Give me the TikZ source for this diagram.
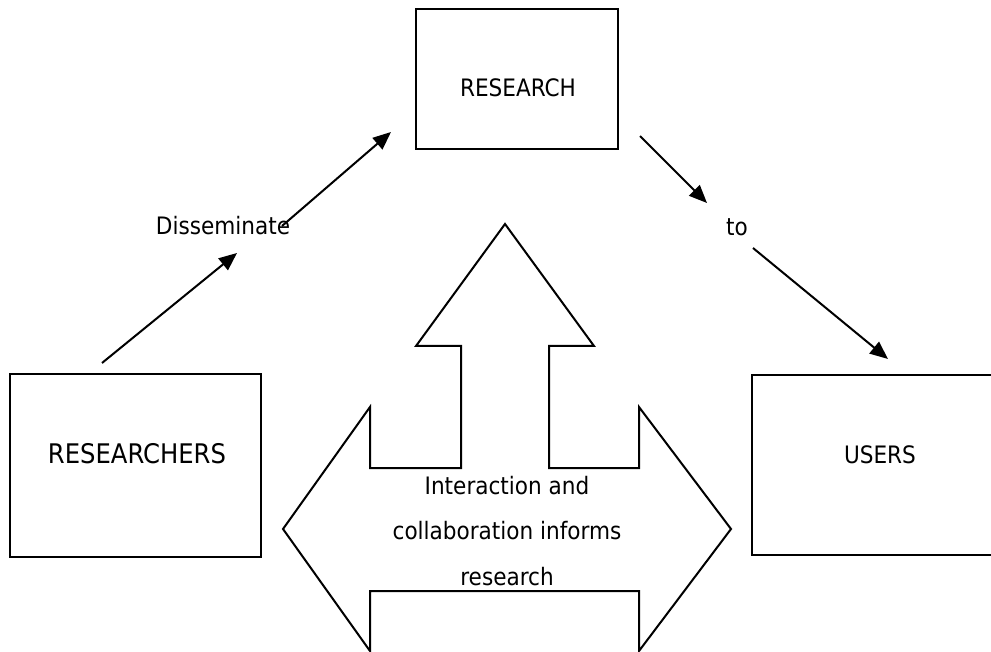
\documentclass[tikz,border=0pt]{standalone}
\usepackage{fontspec}
\setmainfont{DejaVu Sans Condensed}
\usetikzlibrary{arrows.meta}

\tikzset{
  box/.style = {draw, line width = 2.2pt, inner sep = 0pt},
  conn/.style = {line width = 2pt, -{Triangle[length = 18pt, width = 15pt]}},
  lbl/.style = {inner sep = 0pt, font = \fontsize{24}{28}\selectfont},
}

\begin{document}
\begin{tikzpicture}[x = 1pt, y = -1pt]
		\clip (0,0) rectangle (991,652);
		
		% boxes
		\node [box, minimum width = 202pt, minimum height = 140pt] (research) at (517,79) {};
		\node [box, minimum width = 251pt, minimum height = 183pt] (researchers) at (135.5,465.5) {};
		\node [box, minimum width = 251pt, minimum height = 180pt] (users) at (877.5,465) {};
		
		\node [lbl, anchor = base] (researchtxt) at (518,97) {RESEARCH};
		\node [lbl, anchor = base, font = \fontsize{27}{32}\selectfont] (researcherstxt) at (137,463) {RESEARCHERS};
		\node [lbl, anchor = base] (userstxt) at (880,463) {USERS};
		
		% labels on the connectors
		\node [lbl, anchor = base] (dissem) at (223,235) {Disseminate};
		\node [lbl, anchor = base] (to) at (737,236) {to};
		
		\coordinate (dissemin) at (102,363);
		\coordinate (dissembelow) at (237,253);
		\coordinate (dissemabove) at (282,226);
		\coordinate (researchin) at (391,132);
		\coordinate (researchout) at (640,136);
		\coordinate (toabove) at (707,203);
		\coordinate (tobelow) at (753,248);
		\coordinate (usersin) at (888,359);
		
		\draw [conn] (dissemin) -- (dissembelow);
		\draw [conn] (dissemabove) -- (researchin);
		\draw [conn] (researchout) -- (toabove);
		\draw [conn] (tobelow) -- (usersin);
		
		% big arrow
		\draw [line width = 2pt, line join = miter] (505,224) -- (594,346) -- (549,346) -- (549,468) -- (639,468) -- (639,407) -- (731,529) -- (639,651) -- (639,591) -- (370,591) -- (370,651) -- (283,529) -- (370,407) -- (370,468) -- (461,468) -- (461,346) -- (416,346) -- cycle;
		
		\node [lbl, anchor = north, align = center, font = \fontsize{24}{45.5}\selectfont] (interaction) at (507,476) {Interaction and\\collaboration informs\\research};
	\end{tikzpicture}
\end{document}
